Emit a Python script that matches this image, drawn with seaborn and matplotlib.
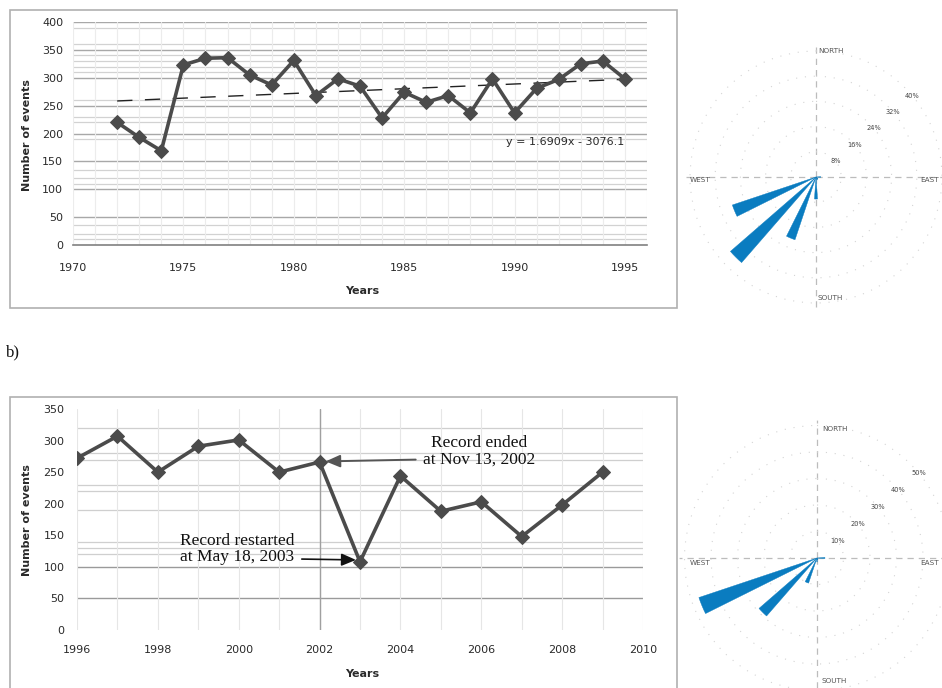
import numpy as np
import pandas as pd
import matplotlib
matplotlib.use("Agg")
import matplotlib.pyplot as plt
from matplotlib.patches import Rectangle
import seaborn as sns

# ---- annual event counts, record a) ----
years_a = list(range(1972, 1996))
events_a = [220, 193, 169, 323, 335, 336, 305, 287, 331, 268, 298, 285,
            228, 274, 256, 268, 237, 298, 237, 281, 297, 325, 330, 298]
trend_slope = 1.6909
trend_icept = -3076.1

# ---- annual event counts, record b) ----
years_b = list(range(1996, 2010))
events_b = [272, 307, 250, 291, 301, 250, 266, 108, 244, 188, 203, 148, 198, 250]

# ---- direction frequency (%) per 16-point compass sector ----
directions = ["N", "NNE", "NE", "ENE", "E", "ESE", "SE", "SSE",
              "S", "SSW", "SW", "WSW", "W", "WNW", "NW", "NNW"]
freq_a = [0, 0, 0, 0, 1.5, 0, 0.8, 1.0, 7, 21, 36, 28, 0, 0, 0, 0]
freq_b = [0, 0, 0, 0, 3, 0, 0, 0.8, 1.5, 10, 29, 47, 0, 0, 0, 0]
rings_a = [8, 16, 24, 32, 40]
rings_b = [10, 20, 30, 40, 50]

sns.set_theme(style="white")
plt.rcParams["font.family"] = ["DejaVu Sans"]

W, H = 942, 688
fig = plt.figure(figsize=(W / 100, H / 100), dpi=100)


def fx(px):
    return px / W


def fy(py):
    return 1 - py / H


LINE_C = "#4b4b4b"
TXT_C = "#2a2a2a"

# panel frames
fig.patches.append(Rectangle((fx(10), fy(308)), fx(667), (298) / H, transform=fig.transFigure,
                             fill=False, edgecolor="#b0b0b0", lw=1.2))
fig.patches.append(Rectangle((fx(10), fy(700)), fx(667), (303) / H, transform=fig.transFigure,
                             fill=False, edgecolor="#b0b0b0", lw=1.2))

# ================= a) time series =================
ax1 = fig.add_axes([fx(73), fy(245), fx(647) - fx(73), (245 - 22) / H])
grid_a_major = [50, 100, 150, 200, 250, 300, 350, 400]
grid_a_minor = [10, 20, 35, 110, 120, 135, 190, 220, 230, 260, 310, 320, 330, 340, 360, 390]
for yv in grid_a_minor:
    ax1.axhline(yv, color="#d2d2d2", lw=0.9, zorder=0)
for yv in grid_a_major:
    ax1.axhline(yv, color="#a8a8a8", lw=1.0, zorder=0)
for xv in range(1970, 1997):
    ax1.axvline(xv, color="#ececec", lw=0.8, zorder=0)

df_a = pd.DataFrame({"Years": years_a, "Events": events_a})
sns.lineplot(data=df_a, x="Years", y="Events", ax=ax1, color=LINE_C, lw=2.6,
             marker="D", markersize=7, markeredgecolor=LINE_C, zorder=3)

trend_x = np.array([years_a[0], years_a[-1]])
ax1.plot(trend_x, trend_slope * trend_x + trend_icept, color="#222222", lw=1.0,
         dashes=(11, 9), zorder=2)
ax1.text(1989.6, 185, f"y = {trend_slope}x - {abs(trend_icept)}", fontsize=8,
         color=TXT_C, ha="left", va="center")

ax1.set_xlim(1970, 1996)
ax1.set_ylim(0, 400)
ax1.set_xticks(range(1970, 1996, 5))
ax1.set_yticks(range(0, 401, 50))
ax1.tick_params(axis="x", labelsize=8, colors=TXT_C, pad=13, length=0)
ax1.tick_params(axis="y", labelsize=8, colors=TXT_C, pad=7, length=0)
for s in ["top", "right", "left"]:
    ax1.spines[s].set_visible(False)
ax1.spines["bottom"].set_color("#808080")
ax1.spines["bottom"].set_linewidth(1.2)
ax1.set_xlabel("")
ax1.set_ylabel("")
ax1.set_facecolor("none")
fig.text(fx(27), fy(135), "Number of events", rotation=90, ha="center", va="center",
         fontsize=8, fontweight="bold", color=TXT_C)
fig.text(fx(362), fy(291), "Years", ha="center", va="center", fontsize=8,
         fontweight="bold", color=TXT_C)

fig.text(fx(6), fy(352), "b)", ha="left", va="center", fontsize=12,
         family="Liberation Serif", color="#111111")

# ================= b) time series =================
ax2 = fig.add_axes([fx(77), fy(630), fx(643) - fx(77), (630 - 409) / H])
grid_b_major = [50, 100]
grid_b_minor = [120, 130, 140, 190, 220, 230, 270, 280, 320]
for yv in grid_b_minor:
    ax2.axhline(yv, color="#cfcfcf", lw=0.9, zorder=0)
for yv in grid_b_major:
    ax2.axhline(yv, color="#9a9a9a", lw=1.0, zorder=0)
for xv in range(1996, 2011):
    ax2.axvline(xv, color="#e6e6e6", lw=0.8, zorder=0)
ax2.axvline(2002, color="#a0a0a0", lw=1.0, zorder=0)

df_b = pd.DataFrame({"Years": years_b, "Events": events_b})
sns.lineplot(data=df_b, x="Years", y="Events", ax=ax2, color=LINE_C, lw=2.6,
             marker="D", markersize=7, markeredgecolor=LINE_C, zorder=3)

serif = ["Liberation Serif", "DejaVu Serif"]
ax2.annotate("Record ended\nat Nov 13, 2002", xy=(2002.15, 267), xytext=(2005.95, 283),
             ha="center", va="center", fontsize=12.5, family=serif, color="#111111",
             linespacing=1.05,
             arrowprops=dict(arrowstyle="-|>,head_length=0.7,head_width=0.3",
                             color="#555555", lw=1.4, shrinkA=3, shrinkB=0,
                             relpos=(0.0, 0.25)))
ax2.annotate("Record restarted\nat May 18, 2003", xy=(2002.9, 111), xytext=(1999.96, 128),
             ha="center", va="center", fontsize=12.5, family=serif, color="#111111",
             linespacing=1.05,
             arrowprops=dict(arrowstyle="-|>,head_length=0.7,head_width=0.3",
                             color="#111111", lw=1.2, shrinkA=3, shrinkB=0,
                             relpos=(1.0, 0.2)))

ax2.set_xlim(1996, 2010)
ax2.set_ylim(0, 350)
ax2.set_xticks(range(1996, 2011, 2))
ax2.set_yticks(range(0, 351, 50))
ax2.tick_params(axis="x", labelsize=8, colors=TXT_C, pad=11, length=0)
ax2.tick_params(axis="y", labelsize=8, colors=TXT_C, pad=9, length=0)
for s in ["top", "right", "left", "bottom"]:
    ax2.spines[s].set_visible(False)
ax2.set_xlabel("")
ax2.set_ylabel("")
ax2.set_facecolor("none")
fig.text(fx(27), fy(520), "Number of events", rotation=90, ha="center", va="center",
         fontsize=8, fontweight="bold", color=TXT_C)
fig.text(fx(362), fy(674), "Years", ha="center", va="center", fontsize=8,
         fontweight="bold", color=TXT_C)

# ================= wind roses =================
BLUE = "#0a7cc0"
bearings = np.deg2rad(np.arange(16) * 22.5)


def rose(cx, cy, px_per_pct, rmax, freqs, rings, labels_pos):
    rad = rmax * px_per_pct
    ax = fig.add_axes([fx(cx - rad), fy(cy + rad), 2 * rad / W, 2 * rad / H],
                      projection="polar")
    ax.set_theta_zero_location("N")
    ax.set_theta_direction(-1)
    ax.bar(bearings, freqs, width=np.deg2rad(8), bottom=0, color=BLUE,
           edgecolor=BLUE, lw=0.3, zorder=3)
    ax.set_ylim(0, rmax)
    ax.set_rgrids(rings, labels=[""] * len(rings))
    ax.set_thetagrids([0, 90, 180, 270], labels=[""] * 4)
    ax.yaxis.grid(True, color="#d4d4d4", lw=0.8, linestyle=(0, (1, 7)))
    ax.xaxis.grid(True, color="#bcbcbc", lw=0.9, linestyle=(0, (5, 4)))
    ax.spines["polar"].set_visible(False)
    ax.set_facecolor("none")
    for r in rings:
        ax.text(np.deg2rad(50), r, f"{r}%", fontsize=4.8, color="#444444",
                ha="center", va="center", zorder=4)
    for (txt, px, py) in labels_pos:
        fig.text(fx(px), fy(py), txt, fontsize=5.2, color="#555555",
                 ha="left", va="center")
    return ax


rose(816, 177, 3.15, 42, freq_a, rings_a,
     [("NORTH", 818, 51), ("WEST", 690, 180), ("EAST", 920, 180), ("SOUTH", 818, 298)])
rose(817, 558, 2.65, 52, freq_b, rings_b,
     [("NORTH", 822, 429), ("WEST", 690, 563), ("EAST", 920, 563), ("SOUTH", 821, 681)])

fig.savefig("out.png", dpi=100)
